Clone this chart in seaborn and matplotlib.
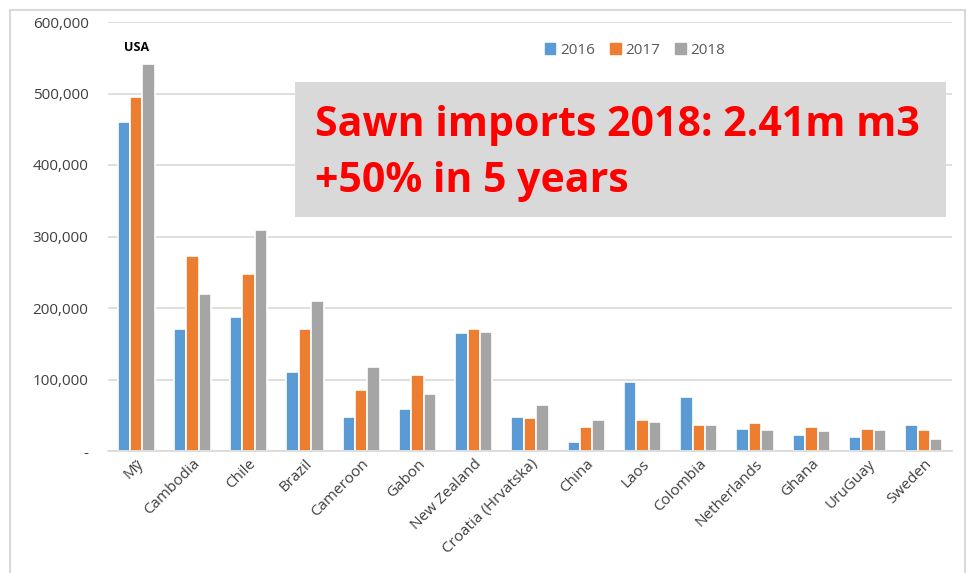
import pandas as pd
import numpy as np
import matplotlib
matplotlib.use('Agg')
import matplotlib.pyplot as plt
import seaborn as sns
from matplotlib.patches import Rectangle
from matplotlib.ticker import FuncFormatter

countries = ['Mỹ', 'Cambodia', 'Chile', 'Brazil', 'Cameroon', 'Gabon', 'New Zealand',
             'Croatia (Hrvatska)', 'China', 'Laos', 'Colombia', 'Netherlands', 'Ghana',
             'UruGuay', 'Sweden']
imports_2016 = [460000, 171000, 187000, 110000, 48000, 59000, 165000, 48000,
                13000, 97000, 76000, 31000, 22000, 20000, 36000]
imports_2017 = [495000, 273000, 248000, 171000, 85000, 106000, 171000, 46000,
                33000, 44000, 36000, 39000, 33000, 31000, 30000]
imports_2018 = [541000, 220000, 309000, 210000, 117000, 80000, 166000, 64000,
                44000, 41000, 37000, 30000, 28000, 30000, 17000]
years = ['2016', '2017', '2018']
colors = ['#5b9bd5', '#ed7d31', '#a5a5a5']

df = pd.DataFrame({
    'country': countries * 3,
    'year': np.repeat(years, len(countries)),
    'volume': imports_2016 + imports_2017 + imports_2018,
})

sns.set_style('white')
plt.rcParams['font.family'] = ['Open Sans', 'DejaVu Sans']

fig = plt.figure(figsize=(9.74, 5.73), dpi=100)
ax = fig.add_axes([108 / 974, 1 - 451 / 573, (952 - 108) / 974, (451 - 22) / 573])

sns.barplot(data=df, x='country', y='volume', hue='year', palette=colors, saturation=1,
            width=0.66, edgecolor='white', linewidth=1.2, ax=ax, legend=False)

ax.set_ylim(0, 600000)
ax.set_xlim(-0.5, len(countries) - 0.5)
ax.set_yticks(range(0, 600001, 100000))
ax.yaxis.set_major_formatter(FuncFormatter(lambda v, p: '-' if v == 0 else f'{int(v):,}'))
ax.grid(axis='y', color='#d9d9d9', linewidth=1.2)
ax.set_axisbelow(True)
for s in ['top', 'right', 'left']:
    ax.spines[s].set_visible(False)
ax.spines['bottom'].set_color('#d9d9d9')
ax.spines['bottom'].set_linewidth(1.2)
ax.set_xlabel('')
ax.set_ylabel('')
ax.tick_params(axis='y', length=0, labelsize=11, labelcolor='#404040', pad=14)
ax.tick_params(axis='x', length=0, labelsize=11, labelcolor='#404040', pad=4)
plt.setp(ax.get_xticklabels(), rotation=45, ha='right', rotation_mode='anchor')

# USA label above the first group
ax.text(0, 555000, 'USA', ha='center', va='bottom', fontsize=9, fontweight='bold', color='black')

# legend
handles = [Rectangle((0, 0), 1, 1, color=c) for c in colors]
fig.legend(handles, years, loc='center', bbox_to_anchor=(635 / 974, 1 - 50 / 573),
           ncol=3, frameon=False, fontsize=11, handlelength=0.7, handleheight=0.7,
           handletextpad=0.3, columnspacing=1.0, labelcolor='#595959')

# outer frame
fig.patches.append(Rectangle((10 / 974, -0.1), 955 / 974, 1 - 10 / 573 + 0.1,
                             transform=fig.transFigure, fill=False,
                             edgecolor='#d9d9d9', linewidth=1.5))

# annotation box
fig.patches.append(Rectangle((295 / 974, 1 - 217 / 573), 651 / 974, 135 / 573,
                             transform=fig.transFigure, facecolor='#d9d9d9',
                             edgecolor='none', zorder=5))
fig.text(315 / 974, 1 - 126 / 573, 'Sawn imports 2018: 2.41m m3', color='#ff0000',
         fontsize=29.5, fontweight='bold', va='center', ha='left', zorder=6)
fig.text(315 / 974, 1 - 181 / 573, '+50% in 5 years', color='#ff0000',
         fontsize=29.5, fontweight='bold', va='center', ha='left', zorder=6)

fig.savefig('out.png', dpi=100)
